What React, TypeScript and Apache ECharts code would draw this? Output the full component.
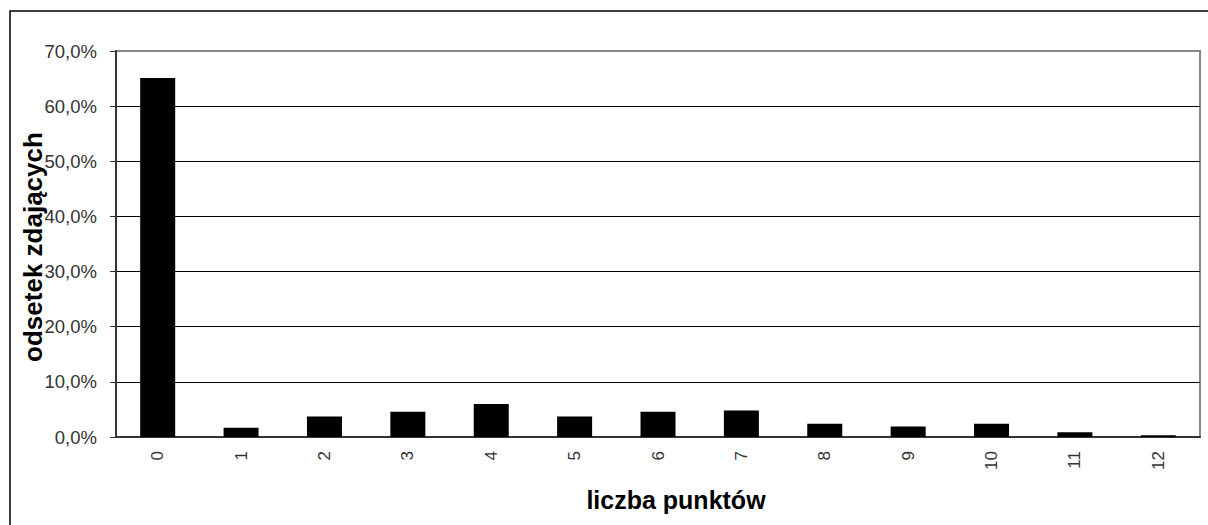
import React, { useEffect, useRef } from "react";
import * as echarts from "echarts";

const categories = ["0", "1", "2", "3", "4", "5", "6", "7", "8", "9", "10", "11", "12"];
const values = [65.1, 1.7, 3.7, 4.6, 6.0, 3.7, 4.6, 4.8, 2.4, 1.9, 2.4, 0.85, 0.3];
const yTitle = "odsetek zdających";
const xTitle = "liczba punktów";

export default function App() {
  const ref = useRef<HTMLDivElement>(null);
  useEffect(() => {
    if (!ref.current) return;
    const chart = echarts.init(ref.current, null, { renderer: "svg" });
    const font = "'Liberation Sans', Arial, sans-serif";
    chart.setOption({
      animation: false,
      backgroundColor: "#fff",
      grid: {
        left: 116,
        right: 8,
        top: 51,
        bottom: 88,
        show: true,
        borderColor: "#888",
        borderWidth: 2,
      },
      xAxis: {
        type: "category",
        data: categories,
        axisLine: { lineStyle: { color: "#333", width: 2 } },
        axisTick: { inside: true, length: 6, lineStyle: { color: "#333", width: 1 } },
        axisLabel: {
          rotate: 90,
          margin: 14,
          color: "#333",
          fontSize: 17,
          fontFamily: font,
        },
      },
      yAxis: {
        type: "value",
        min: 0,
        max: 70,
        interval: 10,
        axisLine: { show: true, lineStyle: { color: "#333", width: 2 } },
        axisTick: { show: true, length: 6, lineStyle: { color: "#333", width: 1 } },
        axisLabel: {
          margin: 19,
          color: "#333",
          fontSize: 18.5,
          fontFamily: font,
          formatter: (v: number) => v.toFixed(1).replace(".", ",") + "%",
        },
        splitLine: { show: true, showMaxLine: false, lineStyle: { color: "#000", width: 1 } },
      },
      series: [
        {
          type: "bar",
          data: values,
          barWidth: 35,
          itemStyle: { color: "#000" },
        },
      ],
      graphic: [
        {
          type: "rect",
          shape: { x: 10, y: 11, width: 1400, height: 800 },
          style: { fill: "none", stroke: "#000", lineWidth: 1.5 },
          silent: true,
          z: 100,
        },
        {
          type: "text",
          x: 33,
          y: 247,
          rotation: Math.PI / 2,
          style: {
            text: yTitle,
            font: `bold 26px ${font}`,
            fill: "#000",
            align: "center",
            verticalAlign: "middle",
          },
        },
        {
          type: "text",
          x: 676,
          y: 500,
          style: {
            text: xTitle,
            font: `bold 25px ${font}`,
            fill: "#000",
            align: "center",
            verticalAlign: "middle",
          },
        },
      ],
    });
    return () => chart.dispose();
  }, []);
  return (
    <div
      ref={ref}
      style={{ position: "fixed", left: 0, top: 0, width: 1208, height: 525 }}
    />
  );
}
